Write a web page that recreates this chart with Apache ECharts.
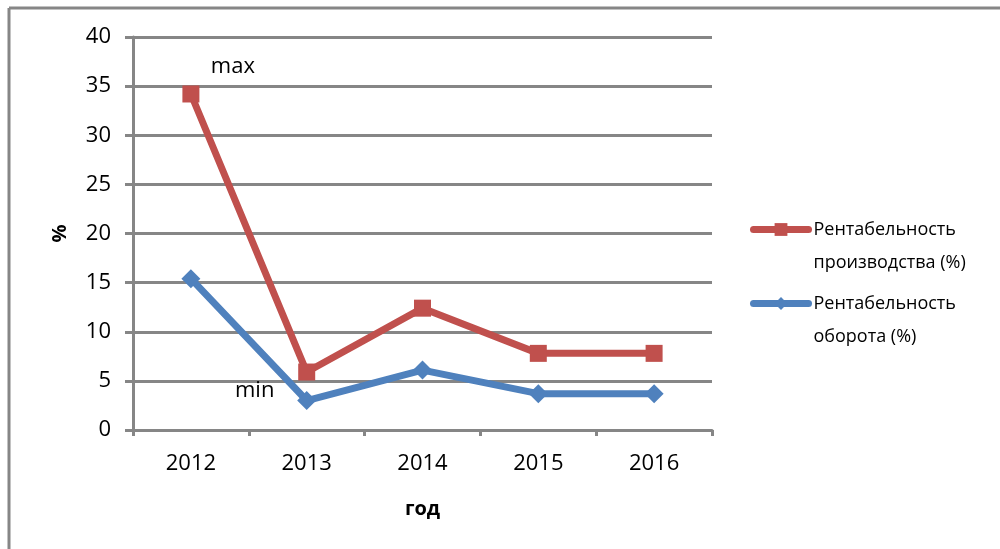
<!DOCTYPE html>
<html>
<head>
<meta charset="utf-8">
<script src="https://cdn.jsdelivr.net/npm/echarts@6/dist/echarts.min.js"></script>
<style>
  html, body { margin: 0; padding: 0; background: #fff; }
  #chart { width: 1000px; height: 549px; }
</style>
</head>
<body>
<div id="chart"></div>
<script>
// Years on the horizontal axis
const years = ['2012', '2013', '2014', '2015', '2016'];
// Profitability of production, %
const productionProfit = [34.2, 5.9, 12.4, 7.8, 7.8];
// Profitability of turnover, %
const turnoverProfit = [15.4, 3.0, 6.1, 3.7, 3.7];
// Series names and their wrapped legend text (leading blank line keeps the
// first text line level with the legend icon)
const seriesNames = ['Рентабельность производства (%)', 'Рентабельность оборота (%)'];
const legendText = ['\nРентабельность\nпроизводства (%)', '\nРентабельность\nоборота (%)'];
// Annotated extremes: [series index, point index, text]
const notes = [[0, 0, 'max'], [1, 1, 'min']];

const FONT = 'Open Sans';
const GREY = '#868686';
const RED = '#C0504D';
const BLUE = '#4F81BD';

function withNotes(values, sIdx) {
  return values.map((v, i) => {
    const n = notes.find(x => x[0] === sIdx && x[1] === i);
    if (!n) return v;
    const offset = n[2] === 'max' ? [42, -27] : [-52, -10];
    return {
      value: v,
      label: {
        show: true, formatter: n[2], position: 'inside', offset: offset,
        color: '#000', fontFamily: FONT, fontSize: 22
      }
    };
  });
}

const chart = echarts.init(document.getElementById('chart'), null, { renderer: 'canvas' });

const legendBase = {
  orient: 'vertical',
  left: 745,
  itemWidth: 55,
  itemHeight: 16,
  itemGap: 5,
  lineStyle: { width: 7, cap: 'round' },
  textStyle: { fontFamily: FONT, fontSize: 18, color: '#000', lineHeight: 33 },
  formatter: name => legendText[seriesNames.indexOf(name)]
};

chart.setOption({
  animation: false,
  backgroundColor: '#fff',
  grid: { left: 133, right: 288, top: 37, bottom: 119, containLabel: false },
  legend: [
    Object.assign({}, legendBase, { data: [seriesNames[0]], top: 175 }),
    Object.assign({}, legendBase, { data: [seriesNames[1]], top: 249 })
  ],
  graphic: [
    { type: 'line', shape: { x1: 9, y1: 8, x2: 1000, y2: 8 }, style: { stroke: GREY, lineWidth: 3 } },
    { type: 'line', shape: { x1: 9, y1: 8, x2: 9, y2: 549 }, style: { stroke: GREY, lineWidth: 3 } }
  ],
  xAxis: {
    type: 'category',
    data: years,
    boundaryGap: true,
    name: 'год',
    nameLocation: 'middle',
    nameGap: 69,
    nameTextStyle: { fontFamily: FONT, fontSize: 20, fontWeight: 'bold', color: '#000' },
    axisLine: { lineStyle: { color: GREY, width: 3 } },
    axisTick: { show: true, alignWithLabel: false, length: 6, lineStyle: { color: GREY, width: 3 } },
    axisLabel: { fontFamily: FONT, fontSize: 22, color: '#000', margin: 23 },
    splitLine: { show: false }
  },
  yAxis: {
    type: 'value',
    min: 0,
    max: 40,
    interval: 5,
    name: '%',
    nameLocation: 'middle',
    nameGap: 63,
    nameRotate: 90,
    nameTextStyle: { fontFamily: FONT, fontSize: 20, fontWeight: 'bold', color: '#000' },
    axisLine: { show: true, lineStyle: { color: GREY, width: 3 } },
    axisTick: { show: true, length: 8, lineStyle: { color: GREY, width: 3 } },
    axisLabel: { fontFamily: FONT, fontSize: 22, color: '#000', margin: 22 },
    splitLine: { show: true, lineStyle: { color: GREY, width: 3 } }
  },
  series: [
    {
      name: seriesNames[0],
      type: 'line',
      data: withNotes(productionProfit, 0),
      color: RED,
      lineStyle: { color: RED, width: 7 },
      symbol: 'rect',
      symbolSize: 17,
      itemStyle: { color: RED },
      z: 3
    },
    {
      name: seriesNames[1],
      type: 'line',
      data: withNotes(turnoverProfit, 1),
      color: BLUE,
      lineStyle: { color: BLUE, width: 7 },
      symbol: 'diamond',
      symbolSize: 19,
      itemStyle: { color: BLUE },
      z: 2
    }
  ]
});
</script>
</body>
</html>
